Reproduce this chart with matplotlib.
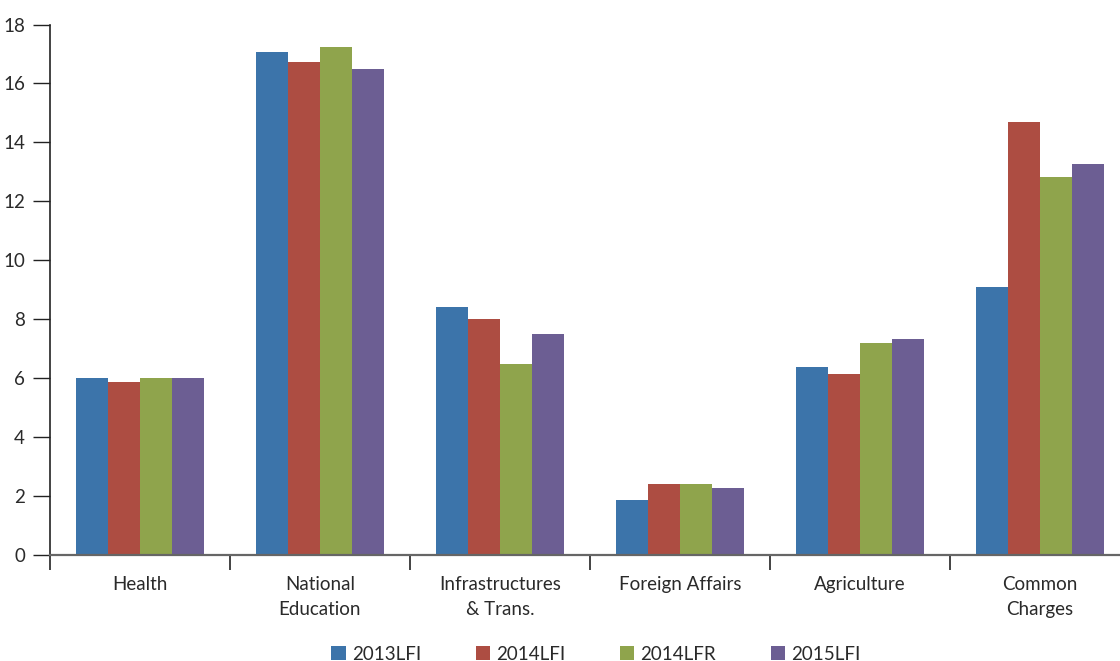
import matplotlib
matplotlib.use("Agg")
import matplotlib.pyplot as plt
import numpy as np

categories = ["Health", "National\nEducation", "Infrastructures\n& Trans.",
              "Foreign Affairs", "Agriculture", "Common\nCharges"]
series_names = ["2013LFI", "2014LFI", "2014LFR", "2015LFI"]
v2013LFI = [6.0, 17.06, 8.42, 1.85, 6.37, 9.08]
v2014LFI = [5.87, 16.72, 8.0, 2.4, 6.13, 14.7]
v2014LFR = [6.0, 17.23, 6.47, 2.4, 7.19, 12.83]
v2015LFI = [6.0, 16.49, 7.5, 2.26, 7.33, 13.28]
yticks = [0, 2, 4, 6, 8, 10, 12, 14, 16, 18]

colors = ["#3C74AA", "#AD4D42", "#8FA44C", "#6C5E93"]
series = [v2013LFI, v2014LFI, v2014LFR, v2015LFI]

plt.rcParams['font.family'] = ['Lato', 'DejaVu Sans']

fig = plt.figure(figsize=(11.2, 6.61), dpi=100)
ax = fig.add_axes([50/1120, 106/661, 1080/1120, (555-24.5)/661])

x = np.arange(len(categories))
bw = 32/180
for i, (vals, c, name) in enumerate(zip(series, colors, series_names)):
    ax.bar(x + (i - 1.5) * bw, vals, width=bw, color=c, label=name, linewidth=0)

ax.set_xlim(-0.5, len(categories) - 0.5)
ax.set_ylim(0, 18)
ax.set_yticks(yticks)
ax.set_yticklabels([str(t) for t in yticks], fontsize=13.5, color="#2a2a2a")

ax.set_xticks(np.arange(len(categories) + 1) - 0.5)
ax.set_xticklabels([])
ax.set_xticks(x, minor=True)
ax.set_xticklabels(categories, minor=True, fontsize=13.5, color="#2a2a2a",
                   linespacing=1.6)
ax.tick_params(axis='x', which='major', direction='out', length=11, width=1.2,
               color="#222222")
ax.tick_params(axis='x', which='minor', length=0, pad=15)
ax.tick_params(axis='y', direction='out', length=12, width=1.0, color="#222222",
               pad=6)

for s in ["top", "right"]:
    ax.spines[s].set_visible(False)
ax.spines["left"].set_color("#222222")
ax.spines["left"].set_linewidth(1.2)
ax.spines["bottom"].set_color("#666666")
ax.spines["bottom"].set_linewidth(1.6)

leg = fig.legend(loc="center", bbox_to_anchor=(596/1120, 1 - 654/661), ncol=4,
                 frameon=False, fontsize=13.5, handlelength=0.75, handleheight=0.75,
                 handletextpad=0.35, columnspacing=2.9)
for t in leg.get_texts():
    t.set_color("#2a2a2a")

fig.savefig("out.png", dpi=100)
